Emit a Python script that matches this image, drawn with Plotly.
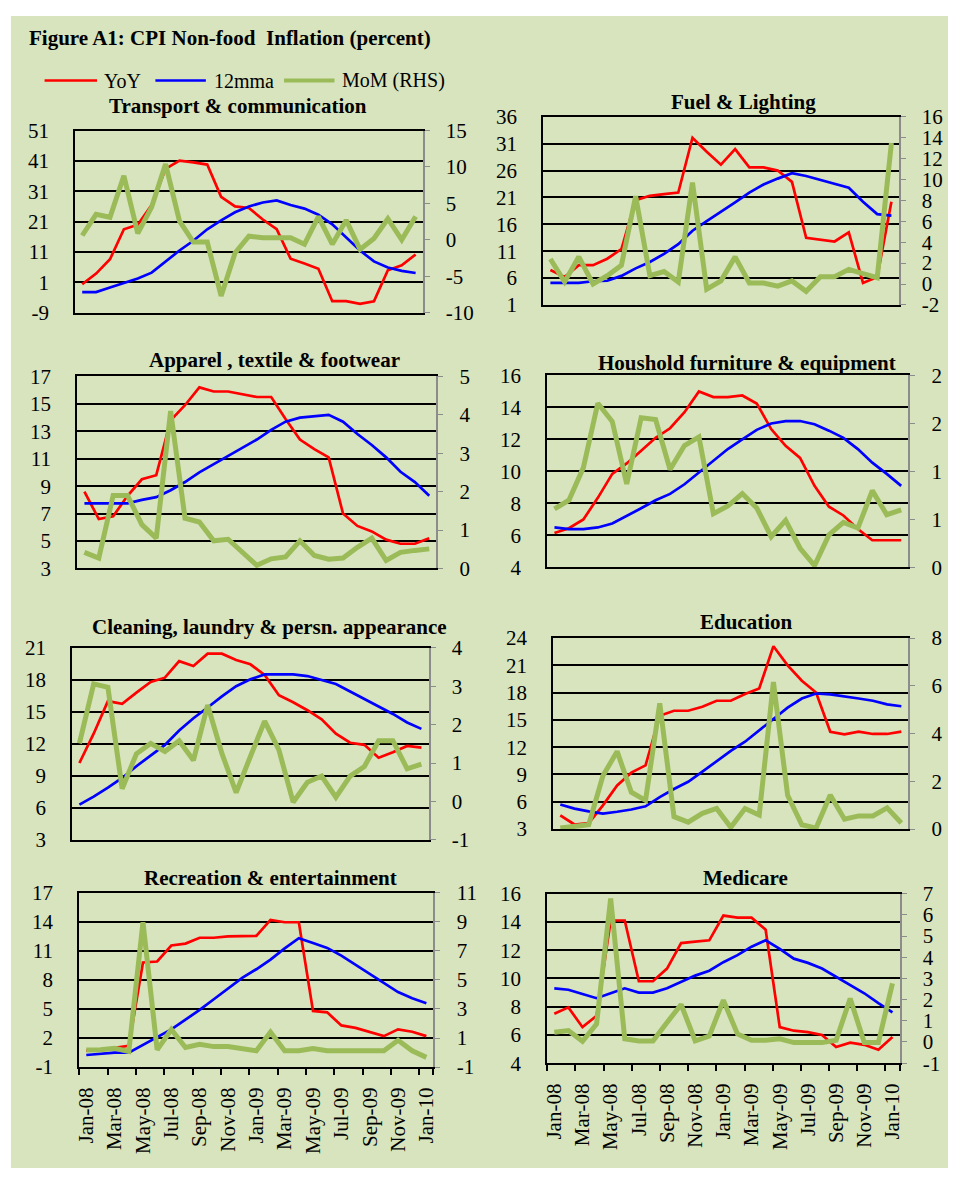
import plotly.graph_objects as go

months = ["Jan-08", "Feb-08", "Mar-08", "Apr-08", "May-08", "Jun-08", "Jul-08", "Aug-08",
          "Sep-08", "Oct-08", "Nov-08", "Dec-08", "Jan-09", "Feb-09", "Mar-09", "Apr-09",
          "May-09", "Jun-09", "Jul-09", "Aug-09", "Sep-09", "Oct-09", "Nov-09", "Dec-09", "Jan-10"]

# Transport & communication
transport_yoy = [0.4, 3.9, 8.6, 18.5, 20.0, 26.5, 38.4, 41.1, 40.5, 39.8, 29.2, 26.0, 25.5,
                 21.7, 18.5, 8.8, 7.2, 5.5, -5.2, -5.2, -6.1, -5.2, 5.0, 6.6, 10.2]
transport_mma = [-2.2, -2.2, -0.7, 0.7, 2.3, 4.2, 8.0, 11.5, 14.7, 18.5, 21.4, 24.1, 26.0,
                 27.3, 28.0, 26.5, 25.3, 23.3, 20.1, 15.8, 11.5, 7.9, 5.9, 4.8, 4.1]
transport_mom = [0.6, 3.5, 3.1, 8.8, 0.9, 4.5, 10.4, 2.6, -0.3, -0.3, -7.7, -1.8, 0.5,
                 0.3, 0.3, 0.3, -0.6, 3.2, -0.6, 2.7, -1.3, 0.2, 2.9, 0.0, 3.2]

# Fuel & Lighting
fuel_yoy = [7.5, 6.2, 8.4, 8.4, 9.6, 11.4, 20.5, 21.3, 21.6, 21.9, 32.1, 29.5, 27.1,
            30.0, 26.6, 26.6, 26.0, 23.9, 13.5, 13.2, 12.8, 14.5, 5.1, 6.2, 20.2]
fuel_mma = [5.1, 5.1, 5.1, 5.4, 5.5, 6.4, 7.8, 9.0, 10.5, 12.3, 14.8, 16.6, 18.3,
            20.1, 21.9, 23.4, 24.5, 25.5, 25.0, 24.3, 23.6, 22.8, 20.2, 17.9, 17.6]
fuel_mom = [2.4, 0.2, 2.6, 0.0, 0.8, 1.8, 8.4, 0.8, 1.2, 0.2, 9.7, -0.5, 0.3,
            2.6, 0.1, 0.1, -0.2, 0.3, -0.7, 0.7, 0.7, 1.4, 1.0, 0.6, 13.5]

# Apparel, textile & footwear
apparel_yoy = [8.6, 6.6, 6.8, 8.3, 9.5, 9.8, 13.8, 14.9, 16.2, 15.9, 15.9, 15.7, 15.5,
               15.5, 13.9, 12.4, 11.7, 11.1, 7.0, 6.1, 5.7, 5.1, 4.8, 4.8, 5.2]
apparel_mma = [7.75, 7.75, 7.75, 7.75, 8.0, 8.2, 8.7, 9.3, 10.0, 10.6, 11.2, 11.8, 12.4,
               13.1, 13.7, 14.0, 14.1, 14.2, 13.7, 12.8, 12.0, 11.1, 10.05, 9.3, 8.3]
apparel_mom = [0.42, 0.27, 1.9, 1.9, 1.14, 0.79, 4.1, 1.31, 1.21, 0.72, 0.76, 0.42, 0.08,
               0.25, 0.3, 0.72, 0.34, 0.24, 0.27, 0.55, 0.79, 0.21, 0.42, 0.47, 0.51]

# Houshold furniture & equipment
furniture_yoy = [6.15, 6.45, 7.0, 8.35, 9.85, 10.5, 11.3, 12.1, 12.7, 13.7, 15.0, 14.65, 14.65,
                 14.75, 14.25, 12.65, 11.6, 10.85, 9.1, 7.8, 7.25, 6.4, 5.7, 5.7, 5.7]
furniture_mma = [6.5, 6.4, 6.4, 6.5, 6.75, 7.2, 7.7, 8.2, 8.6, 9.2, 9.95, 10.65, 11.4,
                 12.0, 12.6, 13.0, 13.15, 13.15, 12.95, 12.55, 12.1, 11.4, 10.55, 9.85, 9.1]
furniture_mom = [0.61, 0.7, 1.04, 1.71, 1.52, 0.87, 1.56, 1.54, 1.02, 1.27, 1.36, 0.56, 0.64,
                 0.77, 0.62, 0.32, 0.49, 0.2, 0.02, 0.34, 0.47, 0.41, 0.8, 0.55, 0.6]

# Cleaning, laundry & persn. appearance
cleaning_yoy = [10.2, 12.95, 16.0, 15.75, 16.8, 17.8, 18.2, 19.75, 19.3, 20.45, 20.45, 19.85, 19.45,
                18.45, 16.55, 15.9, 15.15, 14.3, 12.95, 12.1, 11.9, 10.7, 11.2, 11.8, 11.65]
cleaning_mma = [6.3, 7.05, 7.9, 8.8, 9.9, 10.9, 11.9, 13.25, 14.4, 15.4, 16.45, 17.4, 18.05,
                18.5, 18.5, 18.5, 18.35, 18.0, 17.6, 16.9, 16.2, 15.55, 14.8, 14.0, 13.4]
cleaning_mom = [1.51, 3.06, 2.97, 0.33, 1.24, 1.51, 1.3, 1.58, 1.07, 2.51, 1.25, 0.23, 1.17,
                2.09, 1.34, -0.02, 0.5, 0.66, 0.11, 0.66, 0.91, 1.58, 1.58, 0.85, 0.97]

# Education
education_yoy = [4.5, 3.5, 3.65, 5.6, 7.8, 9.2, 10.0, 15.45, 16.0, 16.0, 16.45, 17.1, 17.1,
                 17.85, 18.45, 23.1, 21.0, 19.3, 18.0, 13.7, 13.4, 13.7, 13.45, 13.45, 13.7]
education_mma = [5.7, 5.25, 4.95, 4.7, 4.9, 5.15, 5.5, 6.5, 7.4, 8.2, 9.3, 10.45, 11.6,
                 12.6, 13.85, 15.2, 16.35, 17.35, 17.9, 17.8, 17.6, 17.35, 17.1, 16.7, 16.5]
education_mom = [0.04, 0.1, 0.18, 2.23, 3.25, 1.54, 1.2, 5.26, 0.52, 0.29, 0.66, 0.86, 0.07,
                 0.86, 0.59, 6.16, 1.41, 0.18, 0.04, 1.43, 0.41, 0.55, 0.55, 0.89, 0.25]

# Recreation & entertainment
recreation_yoy = [0.7, 0.75, 1.0, 1.2, 9.8, 9.9, 11.55, 11.75, 12.35, 12.35, 12.5, 12.55, 12.55,
                  14.2, 13.95, 13.95, 4.8, 4.65, 3.3, 3.05, 2.6, 2.2, 2.9, 2.65, 2.2]
recreation_mma = [0.25, 0.35, 0.5, 0.5, 1.3, 2.05, 2.9, 3.9, 4.9, 6.0, 7.1, 8.2, 9.1,
                  10.1, 11.25, 12.3, 11.8, 11.3, 10.5, 9.55, 8.6, 7.7, 6.75, 6.1, 5.6]
recreation_mom = [0.17, 0.19, 0.3, 0.08, 8.97, 0.19, 1.59, 0.35, 0.57, 0.41, 0.41, 0.3, 0.12,
                  1.41, 0.12, 0.12, 0.28, 0.12, 0.12, 0.12, 0.12, 0.12, 0.84, 0.12, -0.33]

# Medicare
medicare_yoy = [7.5, 7.95, 6.55, 7.35, 14.1, 14.1, 9.8, 9.8, 10.7, 12.5, 12.6, 12.7, 14.45,
                14.3, 14.3, 13.45, 6.55, 6.3, 6.2, 6.0, 5.15, 5.45, 5.3, 4.95, 5.85]
medicare_mma = [9.3, 9.2, 8.9, 8.6, 8.95, 9.3, 9.0, 9.0, 9.3, 9.75, 10.2, 10.55, 11.15,
                11.65, 12.25, 12.7, 12.1, 11.4, 11.1, 10.7, 10.1, 9.55, 8.95, 8.25, 7.6]
medicare_mom = [0.46, 0.54, 0.03, 0.85, 6.77, 0.15, 0.05, 0.05, 0.92, 1.77, 0.05, 0.28, 1.97,
                0.38, 0.08, 0.08, 0.15, -0.03, -0.03, -0.03, 0.08, 2.05, -0.03, -0.03, 2.77]

# axis tick labels (left axis, right axis)
transport_left = [-9, 1, 11, 21, 31, 41, 51]
transport_right = [-10, -5, 0, 5, 10, 15]
fuel_left = [1, 6, 11, 16, 21, 26, 31, 36]
fuel_right = [-2, 0, 2, 4, 6, 8, 10, 12, 14, 16]
apparel_left = [3, 5, 7, 9, 11, 13, 15, 17]
apparel_right = [0, 1, 2, 3, 4, 5]
furniture_left = [4, 6, 8, 10, 12, 14, 16]
furniture_right = [0, 0.5, 1, 1.5, 2]
furniture_right_text = ["0", "1", "1", "2", "2"]
cleaning_left = [3, 6, 9, 12, 15, 18, 21]
cleaning_right = [-1, 0, 1, 2, 3, 4]
education_left = [3, 6, 9, 12, 15, 18, 21, 24]
education_right = [0, 2, 4, 6, 8]
recreation_left = [-1, 2, 5, 8, 11, 14, 17]
recreation_right = [-1, 1, 3, 5, 7, 9, 11]
medicare_left = [4, 6, 8, 10, 12, 14, 16]
medicare_right = [-1, 0, 1, 2, 3, 4, 5, 6, 7]

series_names = ["YoY", "12mma", "MoM (RHS)"]

W, H = 953, 1180
FONT = "Liberation Serif"
BG = "#D7E4BD"
RED, BLUE, GREEN = "#FF0000", "#0000FF", "#9BBB59"
COLORS = [RED, BLUE, GREEN]
WIDTHS = [2.7, 2.7, 5]

# panels: title, data, ticks, plot box in pixels (left, top, right, bottom), title centre
panels = [
    ("Transport & communication", transport_yoy, transport_mma, transport_mom,
     transport_left, transport_right, None, (71, 121, 422, 307), (235, 96)),
    ("Fuel & Lighting", fuel_yoy, fuel_mma, fuel_mom,
     fuel_left, fuel_right, None, (544, 107, 903, 299), (746, 92)),
    ("Apparel , textile & footwear", apparel_yoy, apparel_mma, apparel_mom,
     apparel_left, apparel_right, None, (73, 372, 436, 568), (272, 355)),
    ("Houshold furniture & equipment", furniture_yoy, furniture_mma, furniture_mom,
     furniture_left, furniture_right, furniture_right_text, (548, 371, 913, 567), (750, 358)),
    ("Cleaning, laundry & persn. appearance", cleaning_yoy, cleaning_mma, cleaning_mom,
     cleaning_left, cleaning_right, None, (68, 649, 428, 845), (267, 628)),
    ("Education", education_yoy, education_mma, education_mom,
     education_left, education_right, None, (554, 639, 913, 834), (749, 623)),
    ("Recreation & entertainment", recreation_yoy, recreation_mma, recreation_mom,
     recreation_left, recreation_right, None, (75, 899, 433, 1077), (268, 884)),
    ("Medicare", medicare_yoy, medicare_mma, medicare_mom,
     medicare_left, medicare_right, None, (548, 900, 904, 1073), (748, 884)),
]

fig = go.Figure()
layout = {}
annotations = []
shapes = [dict(type="rect", xref="paper", yref="paper", x0=6 / W, x1=1, y0=0,
               y1=1 - 4 / H, fillcolor=BG, line=dict(width=0), layer="below")]


def tick_text(vals):
    return [("%g" % v) for v in vals]


for k, (title, yoy, mma, mom, lticks, rticks, rtext, box, tpos) in enumerate(panels):
    n = k + 1
    xid = "x" if n == 1 else f"x{n}"
    y1 = "y" if n == 1 else f"y{2 * n - 1}"
    y2 = f"y{2 * n}"

    for s, (vals, yid) in enumerate([(yoy, y1), (mma, y1), (mom, y2)]):
        fig.add_trace(go.Scatter(x=months, y=vals, name=series_names[s], mode="lines",
                                 line=dict(color=COLORS[s], width=WIDTHS[s]),
                                 xaxis=xid, yaxis=yid, showlegend=False))

    l, t, r, b = box
    xdom = [l / W, r / W]
    ydom = [1 - b / H, 1 - t / H]
    bottom_row = k >= 6

    xa = dict(domain=xdom, anchor=y1, type="category", range=[-0.5, len(months) - 0.5],
              showgrid=False, zeroline=False, showline=True, linecolor="black",
              linewidth=2, mirror=True, fixedrange=True)
    if bottom_row:
        xa.update(tickmode="array", tickvals=months[::2], tickangle=-90,
                  tickson="boundaries", ticks="outside", ticklen=6, tickcolor="black",
                  tickwidth=1.5, ticklabelstandoff=10,
                  tickfont=dict(family=FONT, size=21, color="black"))
    else:
        xa.update(showticklabels=False, ticks="")
    layout["xaxis" if n == 1 else f"xaxis{n}"] = xa

    layout["yaxis" if n == 1 else f"yaxis{2 * n - 1}"] = dict(
        domain=ydom, anchor=xid, range=[lticks[0], lticks[-1]],
        tickmode="array", tickvals=lticks, ticktext=tick_text(lticks),
        showgrid=True, gridcolor="black",
        gridwidth=1.5, zeroline=False, showline=True, linecolor="black", linewidth=2,
        ticks="", ticklabelstandoff=20, fixedrange=True,
        tickfont=dict(family=FONT, size=21, color="black"))

    layout[f"yaxis{2 * n}"] = dict(
        overlaying=y1, side="right", anchor=xid, range=[rticks[0], rticks[-1]],
        tickmode="array", tickvals=rticks,
        ticktext=rtext if rtext is not None else tick_text(rticks),
        showgrid=False, zeroline=False,
        showline=True, linecolor="#8C8C8C", linewidth=2, ticks="outside",
        ticklen=5, tickcolor="#8C8C8C", ticklabelstandoff=12, fixedrange=True,
        tickfont=dict(family=FONT, size=21, color="black"))

    annotations.append(dict(text=f"<b>{title}</b>", x=tpos[0] / W, y=1 - tpos[1] / H,
                            xref="paper", yref="paper", xanchor="center", yanchor="middle",
                            showarrow=False, font=dict(family=FONT, size=21, color="black")))

annotations.append(dict(text="<b>Figure A1: CPI Non-food  Inflation (percent)</b>",
                        x=22 / W, y=1 - 27 / H, xref="paper", yref="paper",
                        xanchor="left", yanchor="middle", showarrow=False,
                        font=dict(family=FONT, size=21, color="black")))

# legend drawn by hand: line sample x0, x1 and text start, in pixels
legend_pos = [(40, 93, 98), (152, 203, 209), (282, 333, 339)]
for s, (x0, x1, xt) in enumerate(legend_pos):
    shapes.append(dict(type="line", xref="paper", yref="paper", x0=x0 / W, x1=x1 / W,
                       y0=1 - 70 / H, y1=1 - 70 / H,
                       line=dict(color=COLORS[s], width=2.5 if s < 2 else 4)))
    annotations.append(dict(text=series_names[s], x=xt / W, y=1 - 70 / H, xref="paper",
                            yref="paper", xanchor="left", yanchor="middle", showarrow=False,
                            font=dict(family=FONT, size=20, color="black")))

fig.update_layout(
    **layout,
    annotations=annotations,
    shapes=shapes,
    width=W, height=H,
    margin=dict(l=0, r=0, t=0, b=0),
    paper_bgcolor="white",
    plot_bgcolor="white",
    showlegend=False,
)

fig.write_html("out.html", config={"displayModeBar": False},
               post_script="document.body.style.margin='0';document.body.style.overflow='hidden';")
